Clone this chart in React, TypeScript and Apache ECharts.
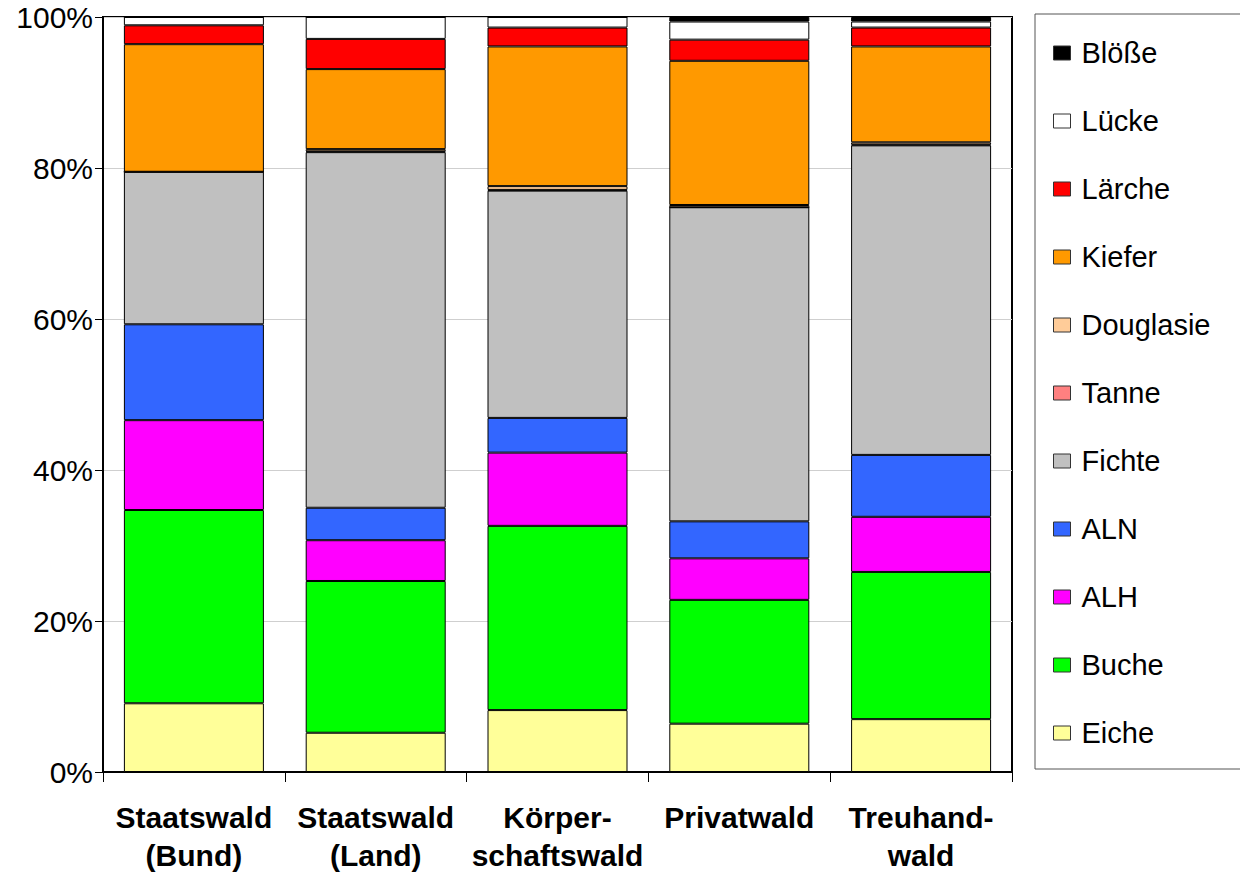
import React, { useEffect, useRef } from "react";
import * as echarts from "echarts";

const categories = [
  "Staatswald\n(Bund)",
  "Staatswald\n(Land)",
  "Körper-\nschaftswald",
  "Privatwald",
  "Treuhand-\nwald",
];

const seriesNames = ["Eiche", "Buche", "ALH", "ALN", "Fichte", "Tanne", "Douglasie", "Kiefer", "Lärche", "Lücke", "Blöße"];
const seriesColors = ["#FFFF99", "#00FF00", "#FF00FF", "#3366FF", "#C0C0C0", "#FF8080", "#FFCC99", "#FF9900", "#FF0000", "#FFFFFF", "#000000"];

const eiche = [9.1, 5.2, 8.2, 6.4, 7.0];
const buche = [25.6, 20.1, 24.4, 16.4, 19.5];
const alh = [11.9, 5.4, 9.7, 5.5, 7.3];
const aln = [12.7, 4.3, 4.6, 4.9, 8.2];
const fichte = [20.2, 47.1, 30.1, 41.6, 41.0];
const tanne = [0, 0.1, 0.1, 0, 0.1];
const douglasie = [0, 0.3, 0.5, 0.3, 0.3];
const kiefer = [16.9, 10.6, 18.5, 19.1, 12.7];
const laerche = [2.5, 4.0, 2.5, 2.8, 2.5];
const luecke = [1.1, 2.9, 1.4, 2.4, 0.8];
const bloesse = [0, 0, 0, 0.6, 0.6];

const seriesValues = [eiche, buche, alh, aln, fichte, tanne, douglasie, kiefer, laerche, luecke, bloesse];

const yTicks = [0, 20, 40, 60, 80, 100];

export default function App() {
  const ref = useRef<HTMLDivElement>(null);
  useEffect(() => {
    if (!ref.current) return;
    const chart = echarts.init(ref.current, undefined, { renderer: "svg" });
    const font = "'Liberation Sans', Arial, sans-serif";
    chart.setOption({
      animation: false,
      backgroundColor: "#fff",
      grid: {
        left: 103,
        right: 228,
        top: 17,
        bottom: 105,
        show: true,
        borderColor: "#000",
        borderWidth: 2,
      },
      legend: {
        orient: "vertical",
        left: 1053,
        top: 38,
        padding: 0,
        icon: "rect",
        itemWidth: 17,
        itemHeight: 14,
        itemGap: 38,
        data: seriesNames.slice().reverse(),
        itemStyle: { borderColor: "#333", borderWidth: 1 },
        textStyle: {
          fontFamily: font,
          fontSize: 29,
          color: "#000",
          lineHeight: 30,
          padding: [0, 0, 0, 6],
        },
      },
      graphic: [
        {
          type: "rect",
          shape: { x: 1035, y: 14, width: 230, height: 755 },
          style: { fill: "none", stroke: "#555", lineWidth: 1 },
          silent: true,
        },
      ],
      xAxis: {
        type: "category",
        data: categories,
        axisLine: { lineStyle: { color: "#000", width: 2 } },
        axisTick: { show: true, alignWithLabel: false, length: 10, lineStyle: { color: "#000", width: 1 } },
        axisLabel: {
          fontFamily: font,
          fontSize: 30,
          fontWeight: "bold",
          color: "#000",
          lineHeight: 38,
          margin: 26,
          interval: 0,
        },
        splitLine: { show: false },
      },
      yAxis: {
        type: "value",
        min: yTicks[0],
        max: yTicks[yTicks.length - 1],
        interval: 20,
        axisLine: { show: true, lineStyle: { color: "#000", width: 2 } },
        axisTick: { show: true, length: 8, lineStyle: { color: "#000", width: 1 } },
        axisLabel: {
          fontFamily: font,
          fontSize: 30,
          color: "#000",
          margin: 10,
          formatter: "{value}%",
        },
        splitLine: { show: true, lineStyle: { color: "#cfcfcf", width: 1 } },
      },
      series: seriesNames.map((name, i) => ({
        name,
        type: "bar",
        stack: "total",
        barWidth: 140,
        data: seriesValues[i],
        itemStyle: { color: seriesColors[i], borderColor: "#000", borderWidth: 1 },
        emphasis: { disabled: true },
      })),
    });
    return () => chart.dispose();
  }, []);
  return (
    <div
      ref={ref}
      style={{ position: "fixed", left: 0, top: 0, width: 1240, height: 877 }}
    />
  );
}
